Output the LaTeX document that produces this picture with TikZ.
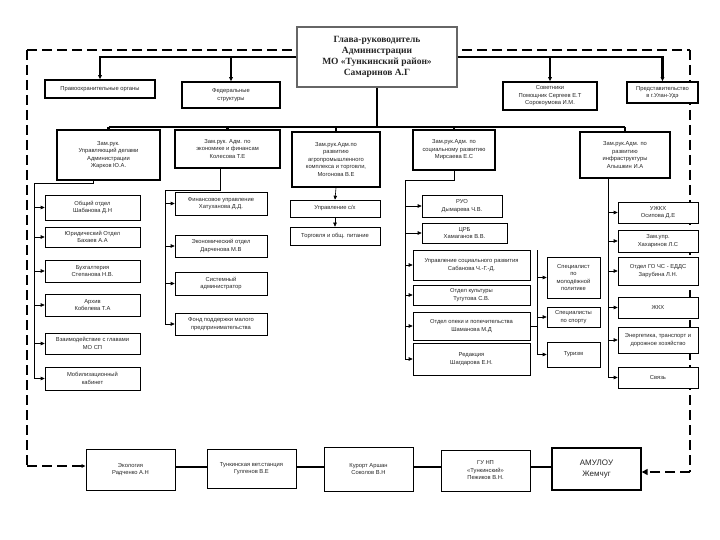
\documentclass[tikz,border=0pt]{standalone}
\usepackage{fontspec}
\setmainfont{Liberation Sans}
\newfontfamily\serifbf{Liberation Serif}
\usetikzlibrary{arrows.meta}
\newcommand\mkbox[7]{\node[#1,minimum width={#5-#3},minimum height={#6-#4}] (#2) at ({(#3+#5)/2},{(#4+#6)/2}) {#7};}
\tikzset{
  base/.style={draw,fill=white,inner sep=1pt,align=center,text=black!85},
  mainbox/.style={base,draw=black!60,line width=1.6pt,font=\serifbf\bfseries\fontsize{9.5}{11}\selectfont},
  topbox/.style={base,line width=1.6pt,font=\fontsize{5.8}{7.5}\selectfont},
  smbox/.style={base,line width=0.6pt,font=\fontsize{5.8}{7.5}\selectfont},
  botbox/.style={base,line width=0.8pt,font=\fontsize{5.8}{7.5}\selectfont},
  conn/.style={line width=2.2pt},
  tree/.style={line width=0.6pt},
  arr/.style={-{Triangle[length=4pt,width=3.5pt]}},
  bigarr/.style={-{Triangle[length=6pt,width=6pt]}},
  frame/.style={line width=2.2pt,dash pattern=on 10pt off 5pt}
}
\begin{document}
\begin{tikzpicture}[x=1pt,y=-1pt]
\useasboundingbox[fill=white] (0,0) rectangle (720,540);
% frame coordinates
\coordinate (FTL) at (27,50);
\coordinate (FTR) at (690,50);
\coordinate (FBL) at (27,466);
\coordinate (FBR) at (690,472);
\draw[frame] (FTL) -- (FTR);
\draw[frame] (FTL) -- (FBL);
\draw[frame] (FTR) -- (FBR);
% main
\mkbox{mainbox}{main}{297}{27}{457}{87}{Глава-руководитель\\Администрации\\МО «Тункинский район»\\Самаринов А.Г}
% top row
\mkbox{topbox}{pb}{45}{80}{155}{98}{Правоохранительные органы}
\mkbox{topbox}{fed}{182}{82}{280}{108}{Федеральные\\структуры}
\mkbox{topbox}{sov}{503}{82}{597}{110}{Советники\\Помощник Сергеев Е.Т\\Сорокоумова И.М.}
\mkbox{topbox}{pred}{627}{82}{698}{103}{Представительство\\в г.Улан-Удэ}
% deputies
\mkbox{topbox}{z1}{57}{130}{160}{180}{Зам.рук.\\Управляющий делами\\Администрации\\Жарков Ю.А.}
\mkbox{topbox}{z2}{175}{130}{280}{168}{Зам.рук. Адм. по\\экономике и финансам\\Колесова Т.Е}
\mkbox{topbox}{z3}{292}{132}{380}{187}{Зам.рук.Адм.по\\развитию\\агропромышленного\\комплекса и торговли,\\Могонова В.Е}
\mkbox{topbox}{z4}{413}{130}{495}{170}{Зам.рук.Адм. по\\социальному развитию\\Мирсаева Е.С}
\mkbox{topbox}{z5}{580}{132}{670}{178}{Зам.рук.Адм. по\\развитию\\инфраструктуры\\Алышкин И.А}
% column 1
\mkbox{smbox}{b1}{45}{195}{140}{220}{Общий отдел\\Шабанова Д.Н}
\mkbox{smbox}{b2}{45}{227}{140}{247}{Юридический Отдел\\Бахаев А.А}
\mkbox{smbox}{b3}{45}{260}{140}{282}{Бухгалтерия\\Степанова Н.В.}
\mkbox{smbox}{b4}{45}{294}{140}{316}{Архив\\Кобелева Т.А}
\mkbox{smbox}{b5}{45}{333}{140}{354}{Взаимодействие с главами\\МО СП}
\mkbox{smbox}{b6}{45}{367}{140}{390}{Мобилизационный\\кабинет}
% column 2
\mkbox{smbox}{c1}{175}{192}{267}{215}{Финансовое управление\\Хатуханова Д.Д.}
\mkbox{smbox}{c2}{175}{235}{267}{257}{Экономический отдел\\Дарченова М.В}
\mkbox{smbox}{c3}{175}{272}{267}{295}{Системный\\администратор}
\mkbox{smbox}{c4}{175}{313}{267}{335}{Фонд поддержки малого\\предпринимательства}
% column 3
\mkbox{smbox}{d1}{290}{200}{380}{217}{Управление с/х}
\mkbox{smbox}{d2}{290}{227}{380}{245}{Торговля и общ. питание}
% column 4
\mkbox{smbox}{e1}{422}{195}{502}{217}{РУО\\Дымарева Ч.В.}
\mkbox{smbox}{e2}{422}{223}{507}{243}{ЦРБ\\Хамаганов В.В.}
\mkbox{smbox}{e3}{413}{250}{530}{280}{Управление социального развития\\Сабанова Ч.-Г.-Д.}
\mkbox{smbox}{e4}{413}{285}{530}{305}{Отдел культуры\\Тугутова С.В.}
\mkbox{smbox}{e5}{413}{312}{530}{340}{Отдел опеки и попечительства\\Шаманова М.Д}
\mkbox{smbox}{e6}{413}{343}{530}{375}{Редакция\\Шагдарова Е.Н.}
% sub column
\mkbox{smbox}{f1}{547}{257}{600}{298}{Специалист\\по\\молодёжной\\политике}
\mkbox{smbox}{f2}{547}{307}{600}{327}{Специалисты\\по спорту}
\mkbox{smbox}{f3}{547}{342}{600}{367}{Туризм}
% column 5
\mkbox{smbox}{g1}{618}{202}{698}{223}{УЖКХ\\Осипова Д.Е}
\mkbox{smbox}{g2}{618}{230}{698}{252}{Зам.упр.\\Хахаринов Л.С}
\mkbox{smbox}{g3}{618}{257}{698}{285}{Отдел ГО ЧС - ЕДДС\\Зарубина Л.Н.}
\mkbox{smbox}{g4}{618}{297}{698}{318}{ЖКХ}
\mkbox{smbox}{g5}{618}{327}{698}{353}{Энергетика, транспорт и\\дорожное хозяйство}
\mkbox{smbox}{g6}{618}{367}{698}{388}{Связь}
% bottom
\mkbox{botbox}{h1}{86}{449}{175}{490}{Экология\\Радченко А.Н}
\mkbox{botbox}{h2}{207}{449}{296}{488}{Тункинская вет.станция\\Гулгенов В.Е}
\mkbox{botbox}{h3}{324}{447}{413}{491}{Курорт Аршан\\Соколов В.Н}
\mkbox{botbox}{h4}{441}{450}{530}{491}{ГУ НП\\«Тункинский»\\Пежиков В.Н.}
\node[base,line width=1.4pt,font=\fontsize{8}{11}\selectfont,minimum width=89,minimum height=42] (h5) at (596.5,469) {АМУЛОУ\\Жемчуг};
% frame arrows
\draw[frame,arr] (FBL) -- (h1.west|-FBL);
\draw[frame,bigarr] (FBR) -- (h5.east|-FBR);
% top connectors
\draw[conn,arr] (main.west) -| (pb.north);
\draw[conn,arr] (main.west) -| (fed.north);
\draw[conn,arr] (main.east) -| (sov.north);
\draw[conn,arr] (main.east) -| (pred.north);
\coordinate (bus) at (377,127);
\draw[conn] (main.south) -- (bus);
\draw[conn] (z1.north|-bus) -- (z5.north|-bus);
\foreach \z in {z1,z2,z3,z4,z5} \draw[conn] (\z.north|-bus) -- (\z.north);
% column 1 tree
\coordinate (L0) at (34,183);
\coordinate (L0a) at (93,183);
\draw[tree] (z1.south-|L0a) -- (L0a) -- (L0) -- (L0|-b6.west);
\foreach \b in {b1,b2,b3,b4,b5,b6} \draw[tree,arr] (L0|-\b.west) -- (\b.west);
% column 2 tree
\coordinate (M0) at (165,190);
\coordinate (M0a) at (220,190);
\draw[tree] (z2.south-|M0a) -- (M0a) -- (M0) -- (M0|-c4.west);
\foreach \b in {c1,c2,c3,c4} \draw[tree,arr] (M0|-\b.west) -- (\b.west);
% column 3
\draw[tree,arr] (z3.south) -- (d1.north);
\draw[tree,arr] (d1.south) -- (d2.north);
% column 4 tree
\coordinate (S0) at (405,180);
\coordinate (S0a) at (454,180);
\draw[tree] (z4.south-|S0a) -- (S0a) -- (S0) -- (S0|-e6.west);
\foreach \b in {e1,e2,e3,e4,e5,e6} \draw[tree,arr] (S0|-\b.west) -- (\b.west);
% sub tree
\coordinate (T0) at (537,250);
\draw[tree] (T0) -- (T0|-f3.west);
\draw[tree] (e5.east) -- (T0|-e5.east);
\foreach \b in {f1,f2,f3} \draw[tree,arr] (T0|-\b.west) -- (\b.west);
% column 5 tree
\coordinate (R0) at (608,178);
\draw[tree] (R0) -- (R0|-g6.west);
\foreach \b in {g1,g2,g3,g4,g5,g6} \draw[tree,arr] (R0|-\b.west) -- (\b.west);
% bottom chain
\coordinate (chain) at (0,467);
\draw[conn] (h1.east|-chain) -- (h2.west|-chain);
\draw[conn] (h2.east|-chain) -- (h3.west|-chain);
\draw[conn] (h3.east|-chain) -- (h4.west|-chain);
\draw[conn] (h4.east|-chain) -- (h5.west|-chain);
\end{tikzpicture}
\end{document}
